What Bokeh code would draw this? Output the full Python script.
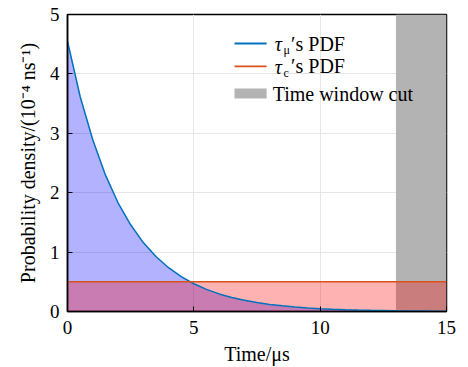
from bokeh.plotting import figure
from bokeh.models import Range1d, Label, BoxAnnotation, FixedTicker
from bokeh.embed import file_html
from bokeh.resources import INLINE

# --- data ---
time_us = [0, 0.5, 1, 1.5, 2, 2.5, 3, 3.5, 4, 4.5, 5, 5.5, 6, 6.5, 7, 7.5,
           8, 8.5, 9, 9.5, 10, 10.5, 11, 11.5, 12, 12.5, 13, 13.5, 14, 14.5, 15]
pdf_mu = [4.55, 3.62, 2.89, 2.30, 1.83, 1.46, 1.16, 0.925, 0.737, 0.587, 0.467,
          0.372, 0.296, 0.236, 0.188, 0.150, 0.119, 0.095, 0.076, 0.060, 0.048,
          0.038, 0.030, 0.024, 0.019, 0.015, 0.012, 0.010, 0.008, 0.006, 0.005]
time_c = [0, 15]
pdf_c = [0.5, 0.5]
cut_left = [13]
cut_right = [15]
cut_bottom = [0]
cut_top = [5]
x_ticks = [0, 5, 10, 15]
y_ticks = [0, 1, 2, 3, 4, 5]

FONT = "Liberation Serif"
BLUE = "#0072BD"
RED = "#D95319"

p = figure(width=468, height=367, output_backend="svg", toolbar_location=None,
           x_range=Range1d(0, 15), y_range=Range1d(0, 5),
           min_border_left=67, min_border_right=22, min_border_top=14,
           min_border_bottom=56)
p.background_fill_color = "white"
p.border_fill_color = "white"
p.outline_line_color = "black"
p.outline_line_width = 1.5

# time window cut (opaque gray, under the translucent fills)
p.quad(left=cut_left, right=cut_right, bottom=cut_bottom, top=cut_top,
       fill_color="#b3b3b3", line_color=None)

# fills
p.varea(x=time_us, y1=[0] * len(time_us), y2=pdf_mu, fill_color="blue", fill_alpha=0.3)
p.varea(x=time_c, y1=[0, 0], y2=pdf_c, fill_color="red", fill_alpha=0.3)

# lines
p.line(time_us, pdf_mu, line_color=BLUE, line_width=1.5)
p.line(time_c, pdf_c, line_color=RED, line_width=1.5)

# axes styling
for ax in [p.xaxis[0], p.yaxis[0]]:
    ax.major_tick_in = 5
    ax.major_tick_out = 0
    ax.minor_tick_in = 0
    ax.minor_tick_out = 0
    ax.axis_line_color = "black"
    ax.axis_line_width = 1.5
    ax.major_tick_line_color = "black"
    ax.major_label_text_font = FONT
    ax.major_label_text_font_size = "19px"
    ax.major_label_text_color = "black"
    ax.axis_label_text_font = FONT
    ax.axis_label_text_font_size = "20px"
    ax.axis_label_text_font_style = "normal"
    ax.axis_label_text_color = "black"
p.xaxis.ticker = FixedTicker(ticks=x_ticks)
p.yaxis.ticker = FixedTicker(ticks=y_ticks)
p.xaxis.major_label_standoff = 9
p.yaxis.major_label_standoff = 8
p.xaxis.axis_label = "Time/μs"
p.yaxis.axis_label = "Probability density/(10⁻⁴ ns⁻¹)"
p.xaxis.axis_label_standoff = 6
p.yaxis.axis_label_standoff = 8

p.xgrid.ticker = FixedTicker(ticks=x_ticks)
p.ygrid.ticker = FixedTicker(ticks=y_ticks)
p.grid.grid_line_color = "#e6e6e6"
p.grid.grid_line_width = 1

# legend (manual, annotations)
p.add_layout(BoxAnnotation(left=6.61, right=7.88, bottom=4.497, top=4.527,
                           fill_color=BLUE, fill_alpha=1, line_color=None))
p.add_layout(BoxAnnotation(left=6.61, right=7.88, bottom=4.110, top=4.140,
                           fill_color=RED, fill_alpha=1, line_color=None))
p.add_layout(BoxAnnotation(left=6.61, right=7.88, bottom=3.586, top=3.754,
                           fill_color="#b3b3b3", fill_alpha=1, line_color=None))

def lab(x, y, text, size="20px", style="normal"):
    p.add_layout(Label(x=x, y=y, text=text, text_font=FONT, text_font_size=size,
                       text_font_style=style, text_baseline="middle", text_color="black"))

lab(8.20, 4.50, "τ", style="italic")
lab(8.55, 4.40, "μ", size="12px")
lab(8.85, 4.51, "′s PDF")
lab(8.20, 4.12, "τ", style="italic")
lab(8.55, 4.02, "c", size="12px")
lab(8.85, 4.13, "′s PDF")
lab(8.12, 3.67, "Time window cut")

open("out.html", "w").write(file_html(p, INLINE))
